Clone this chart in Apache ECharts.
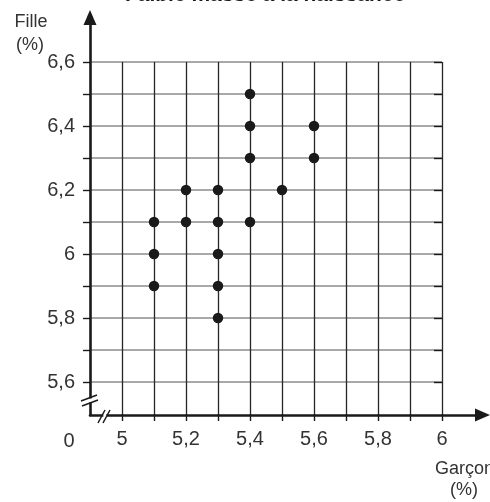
<!DOCTYPE html>
<html>
<head>
<meta charset="utf-8">
<script src="https://cdn.jsdelivr.net/npm/echarts@6/dist/echarts.min.js"></script>
<style>
  html, body { margin: 0; padding: 0; background: #fff; }
  #chart { width: 490px; height: 502px; }
</style>
</head>
<body>
<div id="chart"></div>
<script>
// Prevalence of low birth weight (%), boys vs girls
const boys  = [5.1, 5.1, 5.1, 5.2, 5.2, 5.3, 5.3, 5.3, 5.3, 5.3, 5.4, 5.4, 5.4, 5.4, 5.5, 5.6, 5.6];
const girls = [6.1, 6.0, 5.9, 6.2, 6.1, 6.2, 6.1, 6.0, 5.9, 5.8, 6.5, 6.4, 6.3, 6.1, 6.2, 6.4, 6.3];

const xTickValues = [5, 5.2, 5.4, 5.6, 5.8, 6];
const xTickLabels = ['5', '5,2', '5,4', '5,6', '5,8', '6'];
const yTickValues = [5.6, 5.8, 6, 6.2, 6.4, 6.6];
const yTickLabels = ['5,6', '5,8', '6', '6,2', '6,4', '6,6'];

const titleText = 'Faible masse à la naissance';
const xName = ['Garçon', '(%)'];
const yName = ['Fille', '(%)'];

const INK = '#1a1a1a';
const TEXT = '#333';
const FONT = "'Liberation Sans', Roboto, sans-serif";

// tick positions every 0.1 inside the broken-axis range
const steps = (from, n) => Array.from({ length: n }, (_, i) => +(from + i * 0.1).toFixed(1));
const xTicks = steps(5.0, 11);
const yTicks = steps(5.6, 11);

function labelFor(values, labels) {
  return v => {
    const i = values.findIndex(t => Math.abs(t - v) < 1e-6);
    return i < 0 ? '' : labels[i];
  };
}

const points = boys.map((b, i) => [b, girls[i]]);

const chart = echarts.init(document.getElementById('chart'), null, { renderer: 'canvas' });

const hidden = { show: false };

chart.setOption({
  animation: false,
  backgroundColor: '#fff',
  grid: [
    { left: 90, top: 62, width: 352, height: 352 },
    { left: 90, top: 17.5, right: 7.5, bottom: 87 }
  ],
  xAxis: [
    {
      gridIndex: 0, type: 'value', min: 4.9, max: 6.0, interval: 0.1,
      axisLine: hidden,
      axisTick: { show: true, length: 7, customValues: xTicks, lineStyle: { color: INK, width: 1.4 } },
      axisLabel: {
        show: true, margin: 15, customValues: xTickValues,
        formatter: labelFor(xTickValues, xTickLabels),
        color: TEXT, fontFamily: FONT, fontSize: 20
      },
      splitLine: { show: true, lineStyle: { color: '#262626', width: 1.3 } }
    },
    {
      gridIndex: 1, type: 'value', min: 0, max: 1,
      axisLine: { show: true, symbol: ['none', 'triangle'], symbolSize: [13, 15], lineStyle: { color: INK, width: 2.6 } },
      axisTick: hidden, axisLabel: hidden, splitLine: hidden
    }
  ],
  yAxis: [
    {
      gridIndex: 0, type: 'value', min: 5.5, max: 6.6, interval: 0.1,
      axisLine: hidden,
      axisTick: { show: true, length: 7, customValues: yTicks, lineStyle: { color: INK, width: 1.4 } },
      axisLabel: {
        show: true, margin: 15, customValues: yTickValues,
        formatter: labelFor(yTickValues, yTickLabels),
        color: TEXT, fontFamily: FONT, fontSize: 20
      },
      splitLine: { show: true, lineStyle: { color: '#8c8c8c', width: 1.5 } }
    },
    {
      gridIndex: 0, type: 'value', min: 5.5, max: 6.6, interval: 0.1,
      axisLine: hidden,
      axisTick: { show: true, inside: true, length: 8, customValues: yTicks, lineStyle: { color: INK, width: 1.4 } },
      axisLabel: hidden, splitLine: hidden
    },
    {
      gridIndex: 1, type: 'value', min: 0, max: 1,
      axisLine: { show: true, symbol: ['none', 'triangle'], symbolSize: [13, 15], lineStyle: { color: INK, width: 2.6 } },
      axisTick: hidden, axisLabel: hidden, splitLine: hidden
    }
  ],
  series: [
    {
      type: 'scatter', xAxisIndex: 0, yAxisIndex: 0,
      data: points, symbol: 'circle', symbolSize: 10.5,
      itemStyle: { color: INK, opacity: 1 }, z: 5
    }
  ],
  graphic: [
    // title, sitting right at the top edge
    { type: 'text', x: 265, y: 6, style: { text: titleText, fill: INK, font: "bold 21px 'Liberation Sans', sans-serif", align: 'center', verticalAlign: 'bottom' }, z: 100 },
    // axis names
    { type: 'text', x: 31, y: 22, style: { text: yName[0], fill: TEXT, font: "18px " + FONT, align: 'center', verticalAlign: 'middle' }, z: 100 },
    { type: 'text', x: 30, y: 45, style: { text: yName[1], fill: TEXT, font: "18px " + FONT, align: 'center', verticalAlign: 'middle' }, z: 100 },
    { type: 'text', x: 435, y: 469, style: { text: xName[0], fill: TEXT, font: "18px " + FONT, align: 'left', verticalAlign: 'middle' }, z: 100 },
    { type: 'text', x: 464, y: 490, style: { text: xName[1], fill: TEXT, font: "18px " + FONT, align: 'center', verticalAlign: 'middle' }, z: 100 },
    // origin label
    { type: 'text', x: 69, y: 441, style: { text: '0', fill: TEXT, font: "20px " + FONT, align: 'center', verticalAlign: 'middle' }, z: 100 },
    // axis break marks
    { type: 'rect', shape: { x: 87, y: 398.5, width: 7, height: 4 }, style: { fill: '#fff' }, z: 100 },
    { type: 'line', shape: { x1: 81, y1: 401, x2: 97, y2: 395 }, style: { stroke: INK, lineWidth: 1.5 }, z: 101 },
    { type: 'line', shape: { x1: 82, y1: 406, x2: 98, y2: 400 }, style: { stroke: INK, lineWidth: 1.5 }, z: 101 },
    { type: 'rect', shape: { x: 103.3, y: 412, width: 3, height: 6 }, style: { fill: '#fff' }, z: 100 },
    { type: 'line', shape: { x1: 98, y1: 423, x2: 105, y2: 410 }, style: { stroke: INK, lineWidth: 1.5 }, z: 101 },
    { type: 'line', shape: { x1: 103, y1: 423, x2: 110, y2: 410 }, style: { stroke: INK, lineWidth: 1.5 }, z: 101 }
  ]
});
</script>
</body>
</html>
